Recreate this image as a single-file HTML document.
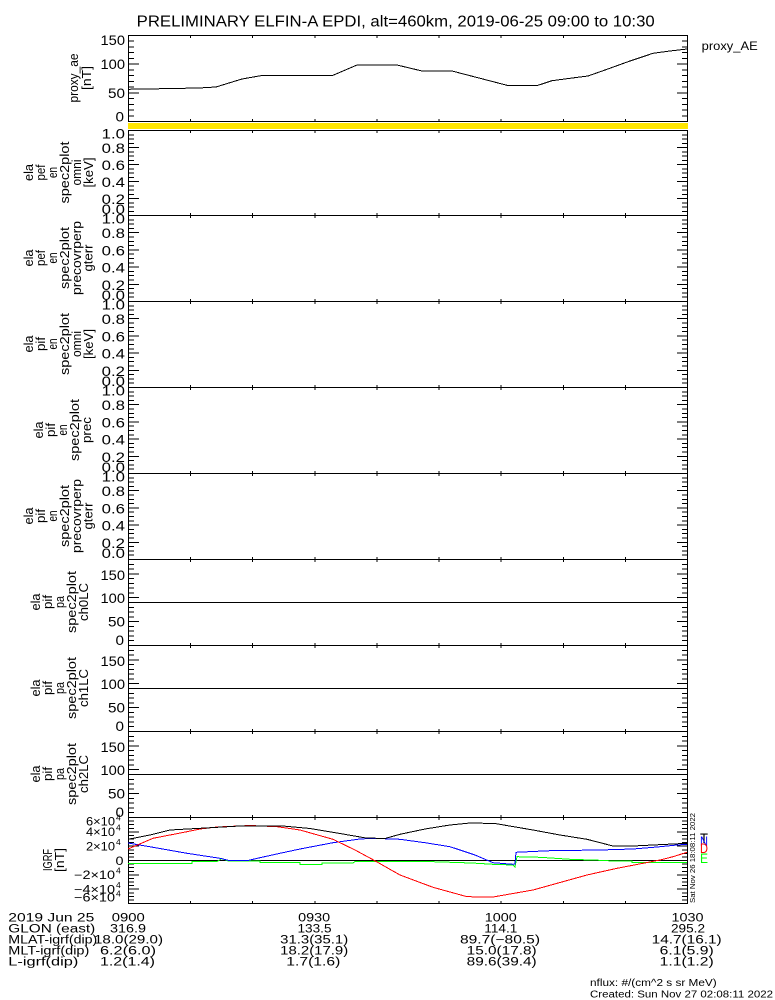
<!DOCTYPE html>
<html><head><meta charset="utf-8"><style>
html,body{margin:0;padding:0;background:#fff;}
svg{display:block;}
text{font-family:"Liberation Sans",sans-serif;fill:#000;}
</style></head><body>
<svg width="775" height="1000" viewBox="0 0 775 1000" xmlns="http://www.w3.org/2000/svg">
<rect width="775" height="1000" fill="#fff"/>

<!-- Title -->
<text x="136.7" y="26.5" font-size="16" textLength="518" lengthAdjust="spacingAndGlyphs">PRELIMINARY ELFIN-A EPDI, alt=460km, 2019-06-25 09:00 to 10:30</text>
<text x="701.7" y="50" font-size="11.5" textLength="56" lengthAdjust="spacingAndGlyphs">proxy_AE</text>

<!-- yellow bar -->
<rect x="128" y="123" width="560" height="6" fill="#FFE600"/>

<g fill="none" stroke="#000" stroke-width="1" shape-rendering="crispEdges">
<!-- frames -->
<rect x="128.5" y="35.5" width="559" height="86"/>
<rect x="128.5" y="130.5" width="559" height="85"/>
<rect x="128.5" y="215.5" width="559" height="86"/>
<rect x="128.5" y="301.5" width="559" height="86"/>
<rect x="128.5" y="387.5" width="559" height="86"/>
<rect x="128.5" y="473.5" width="559" height="86"/>
<rect x="128.5" y="559.5" width="559" height="86"/>
<rect x="128.5" y="645.5" width="559" height="86"/>
<rect x="128.5" y="731.5" width="559" height="86"/>
<rect x="128.5" y="817.5" width="559" height="86"/>
<!-- 90 deg lines & zero line -->
<line x1="128" y1="602.5" x2="688" y2="602.5"/>
<line x1="128" y1="688.5" x2="688" y2="688.5"/>
<line x1="128" y1="774.5" x2="688" y2="774.5"/>
<line x1="128" y1="860.5" x2="688" y2="860.5"/>

<!-- x ticks (top and bottom of each panel) -->
<g stroke-width="2" stroke-dasharray="1 61.1111">
<line x1="128" y1="37" x2="688" y2="37"/><line x1="128" y1="120" x2="688" y2="120"/>
<line x1="128" y1="132" x2="688" y2="132"/><line x1="128" y1="214" x2="688" y2="214"/>
<line x1="128" y1="217" x2="688" y2="217"/><line x1="128" y1="300" x2="688" y2="300"/>
<line x1="128" y1="303" x2="688" y2="303"/><line x1="128" y1="386" x2="688" y2="386"/>
<line x1="128" y1="389" x2="688" y2="389"/><line x1="128" y1="472" x2="688" y2="472"/>
<line x1="128" y1="475" x2="688" y2="475"/><line x1="128" y1="558" x2="688" y2="558"/>
<line x1="128" y1="561" x2="688" y2="561"/><line x1="128" y1="644" x2="688" y2="644"/>
<line x1="128" y1="647" x2="688" y2="647"/><line x1="128" y1="730" x2="688" y2="730"/>
<line x1="128" y1="733" x2="688" y2="733"/><line x1="128" y1="816" x2="688" y2="816"/>
<line x1="128" y1="819" x2="688" y2="819"/><line x1="128" y1="902" x2="688" y2="902"/>
</g>

<!-- y ticks: proxy 0-150 -->
<line x1="131" y1="122" x2="131" y2="35" stroke-width="6" stroke-dasharray="1 4.7333"/>
<line x1="133.5" y1="122" x2="133.5" y2="35" stroke-width="11" stroke-dasharray="1 27.6667"/>
<line x1="685" y1="122" x2="685" y2="35" stroke-width="6" stroke-dasharray="1 4.7333"/>
<line x1="682.5" y1="122" x2="682.5" y2="35" stroke-width="11" stroke-dasharray="1 27.6667"/>

<!-- P1 130-215 -->
<line x1="131" y1="216" x2="131" y2="130" stroke-width="6" stroke-dasharray="1 3.25"/>
<line x1="133.5" y1="216" x2="133.5" y2="130" stroke-width="11" stroke-dasharray="1 16"/>
<line x1="685" y1="216" x2="685" y2="130" stroke-width="6" stroke-dasharray="1 3.25"/>
<line x1="682.5" y1="216" x2="682.5" y2="130" stroke-width="11" stroke-dasharray="1 16"/>
<!-- P2 215-301 -->
<line x1="131" y1="302" x2="131" y2="215" stroke-width="6" stroke-dasharray="1 3.3"/>
<line x1="133.5" y1="302" x2="133.5" y2="215" stroke-width="11" stroke-dasharray="1 16.2"/>
<line x1="685" y1="302" x2="685" y2="215" stroke-width="6" stroke-dasharray="1 3.3"/>
<line x1="682.5" y1="302" x2="682.5" y2="215" stroke-width="11" stroke-dasharray="1 16.2"/>
<!-- P3 301-387 -->
<line x1="131" y1="388" x2="131" y2="301" stroke-width="6" stroke-dasharray="1 3.3"/>
<line x1="133.5" y1="388" x2="133.5" y2="301" stroke-width="11" stroke-dasharray="1 16.2"/>
<line x1="685" y1="388" x2="685" y2="301" stroke-width="6" stroke-dasharray="1 3.3"/>
<line x1="682.5" y1="388" x2="682.5" y2="301" stroke-width="11" stroke-dasharray="1 16.2"/>
<!-- P4 387-473 -->
<line x1="131" y1="474" x2="131" y2="387" stroke-width="6" stroke-dasharray="1 3.3"/>
<line x1="133.5" y1="474" x2="133.5" y2="387" stroke-width="11" stroke-dasharray="1 16.2"/>
<line x1="685" y1="474" x2="685" y2="387" stroke-width="6" stroke-dasharray="1 3.3"/>
<line x1="682.5" y1="474" x2="682.5" y2="387" stroke-width="11" stroke-dasharray="1 16.2"/>
<!-- P5 473-559 -->
<line x1="131" y1="560" x2="131" y2="473" stroke-width="6" stroke-dasharray="1 3.3"/>
<line x1="133.5" y1="560" x2="133.5" y2="473" stroke-width="11" stroke-dasharray="1 16.2"/>
<line x1="685" y1="560" x2="685" y2="473" stroke-width="6" stroke-dasharray="1 3.3"/>
<line x1="682.5" y1="560" x2="682.5" y2="473" stroke-width="11" stroke-dasharray="1 16.2"/>
<!-- P6 559-645 (0-180) -->
<line x1="131" y1="646" x2="131" y2="559" stroke-width="6" stroke-dasharray="1 3.7778"/>
<line x1="133.5" y1="646" x2="133.5" y2="559" stroke-width="11" stroke-dasharray="1 22.8889"/>
<line x1="685" y1="646" x2="685" y2="559" stroke-width="6" stroke-dasharray="1 3.7778"/>
<line x1="682.5" y1="646" x2="682.5" y2="559" stroke-width="11" stroke-dasharray="1 22.8889"/>
<!-- P7 645-731 -->
<line x1="131" y1="732" x2="131" y2="645" stroke-width="6" stroke-dasharray="1 3.7778"/>
<line x1="133.5" y1="732" x2="133.5" y2="645" stroke-width="11" stroke-dasharray="1 22.8889"/>
<line x1="685" y1="732" x2="685" y2="645" stroke-width="6" stroke-dasharray="1 3.7778"/>
<line x1="682.5" y1="732" x2="682.5" y2="645" stroke-width="11" stroke-dasharray="1 22.8889"/>
<!-- P8 731-817 -->
<line x1="131" y1="818" x2="131" y2="731" stroke-width="6" stroke-dasharray="1 3.7778"/>
<line x1="133.5" y1="818" x2="133.5" y2="731" stroke-width="11" stroke-dasharray="1 22.8889"/>
<line x1="685" y1="818" x2="685" y2="731" stroke-width="6" stroke-dasharray="1 3.7778"/>
<line x1="682.5" y1="818" x2="682.5" y2="731" stroke-width="11" stroke-dasharray="1 22.8889"/>
<!-- IGRF 817-903 -->
<line x1="131" y1="904" x2="131" y2="817" stroke-width="6" stroke-dasharray="1 2.5833"/>
<line x1="133.5" y1="904" x2="133.5" y2="817" stroke-width="11" stroke-dasharray="1 13.3333"/>
<line x1="685" y1="904" x2="685" y2="817" stroke-width="6" stroke-dasharray="1 2.5833"/>
<line x1="682.5" y1="904" x2="682.5" y2="817" stroke-width="11" stroke-dasharray="1 13.3333"/>
</g>

<!-- data curves -->
<g fill="none" stroke-width="1" shape-rendering="crispEdges">
<polyline stroke="#000" points="128,89.3 162,88.7 199,88 216,87 242,79 263,75.3 333,75.3 357,65 397,65 422,71 452,71 507,85.3 538,85.3 552,80.7 570,78.3 588,76 607,69.3 628,61.7 653,53.3 670,51 687,49"/>
<polyline stroke="#00FF00" points="128,863.5 192,863.5 192,861.5 217,861.5 222,858.5 228,861 260,861 260,862.7 300,862.7 300,864.3 322,864.3 322,863 353,863 355,861.5 400,861.7 433,861.7 463,862.7 477,863.3 493,864.3 513,865 515,867 517,856.7 540,857.3 570,859.3 600,860.3 613,861 632,861 632,862.7 687,862.7"/>
<polyline stroke="#0000FF" points="128,843 153,847.3 187,853.3 220,858.3 230,860.7 247,860.7 260,857.7 280,853.3 300,849 333,842.7 360,839 373,838.3 400,839.3 425,842.7 450,846.7 475,855 493,862.7 513,864.3 515,864 516,852.3 550,850.7 600,850 633,849 657,847 677,845 687,844.3"/>
<polyline stroke="#FF0000" points="128,849 153,838.3 187,831.7 200,829 217,827 250,825.5 277,826.7 300,830 333,839.3 355,850 373,859.7 400,875 433,887.3 467,896.7 493,897 533,890 587,875 617,868.3 643,863.3 660,860 673,856.7 687,852.3"/>
<polyline stroke="#000" points="128,839.3 150,835 170,830 200,828.3 240,826 283,826 310,828.5 333,832.3 366,838 385,838.5 400,834.3 425,829 450,825 470,823 495,823.5 533,830 560,835 587,839.3 613,846 633,846 667,844.3 687,843.3"/>
</g>

<!-- y tick labels -->
<g font-size="14" text-anchor="end">
<text x="125" y="45" textLength="24.5" lengthAdjust="spacingAndGlyphs">150</text>
<text x="125" y="69" textLength="24.5" lengthAdjust="spacingAndGlyphs">100</text>
<text x="125" y="98" textLength="17" lengthAdjust="spacingAndGlyphs">50</text>
<text x="124" y="121.5" textLength="8.5" lengthAdjust="spacingAndGlyphs">0</text>

<text x="125" y="138.5" textLength="23.3" lengthAdjust="spacingAndGlyphs">1.0</text>
<text x="125" y="153" textLength="23.3" lengthAdjust="spacingAndGlyphs">0.8</text>
<text x="125" y="170" textLength="23.3" lengthAdjust="spacingAndGlyphs">0.6</text>
<text x="125" y="187" textLength="23.3" lengthAdjust="spacingAndGlyphs">0.4</text>
<text x="125" y="204" textLength="23.3" lengthAdjust="spacingAndGlyphs">0.2</text>
<text x="125" y="214" textLength="23.3" lengthAdjust="spacingAndGlyphs">0.0</text>

<text x="125" y="223.5" textLength="23.3" lengthAdjust="spacingAndGlyphs">1.0</text>
<text x="125" y="238.2" textLength="23.3" lengthAdjust="spacingAndGlyphs">0.8</text>
<text x="125" y="255.4" textLength="23.3" lengthAdjust="spacingAndGlyphs">0.6</text>
<text x="125" y="272.6" textLength="23.3" lengthAdjust="spacingAndGlyphs">0.4</text>
<text x="125" y="289.8" textLength="23.3" lengthAdjust="spacingAndGlyphs">0.2</text>
<text x="125" y="300" textLength="23.3" lengthAdjust="spacingAndGlyphs">0.0</text>

<text x="125" y="309.5" textLength="23.3" lengthAdjust="spacingAndGlyphs">1.0</text>
<text x="125" y="324.2" textLength="23.3" lengthAdjust="spacingAndGlyphs">0.8</text>
<text x="125" y="341.4" textLength="23.3" lengthAdjust="spacingAndGlyphs">0.6</text>
<text x="125" y="358.6" textLength="23.3" lengthAdjust="spacingAndGlyphs">0.4</text>
<text x="125" y="375.8" textLength="23.3" lengthAdjust="spacingAndGlyphs">0.2</text>
<text x="125" y="386" textLength="23.3" lengthAdjust="spacingAndGlyphs">0.0</text>

<text x="125" y="395.5" textLength="23.3" lengthAdjust="spacingAndGlyphs">1.0</text>
<text x="125" y="410.2" textLength="23.3" lengthAdjust="spacingAndGlyphs">0.8</text>
<text x="125" y="427.4" textLength="23.3" lengthAdjust="spacingAndGlyphs">0.6</text>
<text x="125" y="444.6" textLength="23.3" lengthAdjust="spacingAndGlyphs">0.4</text>
<text x="125" y="461.8" textLength="23.3" lengthAdjust="spacingAndGlyphs">0.2</text>
<text x="125" y="472" textLength="23.3" lengthAdjust="spacingAndGlyphs">0.0</text>

<text x="125" y="481.5" textLength="23.3" lengthAdjust="spacingAndGlyphs">1.0</text>
<text x="125" y="496.2" textLength="23.3" lengthAdjust="spacingAndGlyphs">0.8</text>
<text x="125" y="513.4" textLength="23.3" lengthAdjust="spacingAndGlyphs">0.6</text>
<text x="125" y="530.6" textLength="23.3" lengthAdjust="spacingAndGlyphs">0.4</text>
<text x="125" y="547.8" textLength="23.3" lengthAdjust="spacingAndGlyphs">0.2</text>
<text x="125" y="558" textLength="23.3" lengthAdjust="spacingAndGlyphs">0.0</text>

<text x="125" y="580" textLength="24.5" lengthAdjust="spacingAndGlyphs">150</text>
<text x="125" y="603" textLength="24.5" lengthAdjust="spacingAndGlyphs">100</text>
<text x="125" y="626.5" textLength="17" lengthAdjust="spacingAndGlyphs">50</text>
<text x="124" y="645" textLength="8.5" lengthAdjust="spacingAndGlyphs">0</text>

<text x="125" y="666" textLength="24.5" lengthAdjust="spacingAndGlyphs">150</text>
<text x="125" y="689" textLength="24.5" lengthAdjust="spacingAndGlyphs">100</text>
<text x="125" y="712.5" textLength="17" lengthAdjust="spacingAndGlyphs">50</text>
<text x="124" y="731" textLength="8.5" lengthAdjust="spacingAndGlyphs">0</text>

<text x="125" y="752" textLength="24.5" lengthAdjust="spacingAndGlyphs">150</text>
<text x="125" y="775" textLength="24.5" lengthAdjust="spacingAndGlyphs">100</text>
<text x="125" y="798.5" textLength="17" lengthAdjust="spacingAndGlyphs">50</text>
<text x="124" y="817" textLength="8.5" lengthAdjust="spacingAndGlyphs">0</text>
</g>

<!-- IGRF tick labels -->
<g font-size="11.5" text-anchor="end">
<text x="115" y="825.7" textLength="29" lengthAdjust="spacingAndGlyphs">6×10</text>
<text x="115" y="836" textLength="29" lengthAdjust="spacingAndGlyphs">4×10</text>
<text x="115" y="850.7" textLength="29" lengthAdjust="spacingAndGlyphs">2×10</text>
<text x="123.5" y="865" textLength="8" lengthAdjust="spacingAndGlyphs">0</text>
<text x="115" y="879" textLength="41" lengthAdjust="spacingAndGlyphs">−2×10</text>
<text x="115" y="893.3" textLength="41" lengthAdjust="spacingAndGlyphs">−4×10</text>
<text x="115" y="901.7" textLength="41" lengthAdjust="spacingAndGlyphs">−6×10</text>
</g>
<g font-size="8.5">
<text x="116" y="820.5">4</text>
<text x="116" y="830.7">4</text>
<text x="116" y="845.2">4</text>
<text x="116" y="873.5">4</text>
<text x="116" y="888">4</text>
<text x="116" y="896.3">4</text>
</g>

<!-- rotated y-axis titles -->
<g font-size="13" text-anchor="middle">
<text transform="translate(78,78) rotate(-90)" textLength="49" lengthAdjust="spacingAndGlyphs">proxy_ae</text>
<text transform="translate(91,78) rotate(-90)" textLength="24" lengthAdjust="spacingAndGlyphs">[nT]</text>

<text transform="translate(33,172.5) rotate(-90)" textLength="17" lengthAdjust="spacingAndGlyphs">ela</text>
<text transform="translate(45,172.5) rotate(-90)" textLength="16" lengthAdjust="spacingAndGlyphs">pef</text>
<text transform="translate(57,172.5) rotate(-90)" textLength="11" lengthAdjust="spacingAndGlyphs">en</text>
<text transform="translate(69,172.5) rotate(-90)" textLength="62" lengthAdjust="spacingAndGlyphs">spec2plot</text>
<text transform="translate(81,172.5) rotate(-90)" textLength="26" lengthAdjust="spacingAndGlyphs">omni</text>
<text transform="translate(93,172.5) rotate(-90)" textLength="30" lengthAdjust="spacingAndGlyphs">[keV]</text>

<text transform="translate(33,258) rotate(-90)" textLength="17" lengthAdjust="spacingAndGlyphs">ela</text>
<text transform="translate(45,258) rotate(-90)" textLength="16" lengthAdjust="spacingAndGlyphs">pef</text>
<text transform="translate(57,258) rotate(-90)" textLength="11" lengthAdjust="spacingAndGlyphs">en</text>
<text transform="translate(69,258) rotate(-90)" textLength="62" lengthAdjust="spacingAndGlyphs">spec2plot</text>
<text transform="translate(81,258) rotate(-90)" textLength="74" lengthAdjust="spacingAndGlyphs">precovrperp</text>
<text transform="translate(92.5,258) rotate(-90)" textLength="27" lengthAdjust="spacingAndGlyphs">gterr</text>

<text transform="translate(33,344) rotate(-90)" textLength="17" lengthAdjust="spacingAndGlyphs">ela</text>
<text transform="translate(45,344) rotate(-90)" textLength="14" lengthAdjust="spacingAndGlyphs">pif</text>
<text transform="translate(57,344) rotate(-90)" textLength="11" lengthAdjust="spacingAndGlyphs">en</text>
<text transform="translate(69,344) rotate(-90)" textLength="62" lengthAdjust="spacingAndGlyphs">spec2plot</text>
<text transform="translate(81,344) rotate(-90)" textLength="26" lengthAdjust="spacingAndGlyphs">omni</text>
<text transform="translate(93,344) rotate(-90)" textLength="30" lengthAdjust="spacingAndGlyphs">[keV]</text>

<text transform="translate(43,430) rotate(-90)" textLength="17" lengthAdjust="spacingAndGlyphs">ela</text>
<text transform="translate(55,430) rotate(-90)" textLength="14" lengthAdjust="spacingAndGlyphs">pif</text>
<text transform="translate(67,430) rotate(-90)" textLength="11" lengthAdjust="spacingAndGlyphs">en</text>
<text transform="translate(79,430) rotate(-90)" textLength="62" lengthAdjust="spacingAndGlyphs">spec2plot</text>
<text transform="translate(91,430) rotate(-90)" textLength="26" lengthAdjust="spacingAndGlyphs">prec</text>

<text transform="translate(33,516) rotate(-90)" textLength="17" lengthAdjust="spacingAndGlyphs">ela</text>
<text transform="translate(45,516) rotate(-90)" textLength="14" lengthAdjust="spacingAndGlyphs">pif</text>
<text transform="translate(57,516) rotate(-90)" textLength="11" lengthAdjust="spacingAndGlyphs">en</text>
<text transform="translate(69,516) rotate(-90)" textLength="62" lengthAdjust="spacingAndGlyphs">spec2plot</text>
<text transform="translate(81,516) rotate(-90)" textLength="74" lengthAdjust="spacingAndGlyphs">precovrperp</text>
<text transform="translate(92.5,516) rotate(-90)" textLength="27" lengthAdjust="spacingAndGlyphs">gterr</text>

<text transform="translate(40,602) rotate(-90)" textLength="17" lengthAdjust="spacingAndGlyphs">ela</text>
<text transform="translate(52,602) rotate(-90)" textLength="14" lengthAdjust="spacingAndGlyphs">pif</text>
<text transform="translate(64,602) rotate(-90)" textLength="12" lengthAdjust="spacingAndGlyphs">pa</text>
<text transform="translate(76,602) rotate(-90)" textLength="62" lengthAdjust="spacingAndGlyphs">spec2plot</text>
<text transform="translate(88,602) rotate(-90)" textLength="38" lengthAdjust="spacingAndGlyphs">ch0LC</text>

<text transform="translate(40,688) rotate(-90)" textLength="17" lengthAdjust="spacingAndGlyphs">ela</text>
<text transform="translate(52,688) rotate(-90)" textLength="14" lengthAdjust="spacingAndGlyphs">pif</text>
<text transform="translate(64,688) rotate(-90)" textLength="12" lengthAdjust="spacingAndGlyphs">pa</text>
<text transform="translate(76,688) rotate(-90)" textLength="62" lengthAdjust="spacingAndGlyphs">spec2plot</text>
<text transform="translate(88,688) rotate(-90)" textLength="38" lengthAdjust="spacingAndGlyphs">ch1LC</text>

<text transform="translate(40,774) rotate(-90)" textLength="17" lengthAdjust="spacingAndGlyphs">ela</text>
<text transform="translate(52,774) rotate(-90)" textLength="14" lengthAdjust="spacingAndGlyphs">pif</text>
<text transform="translate(64,774) rotate(-90)" textLength="12" lengthAdjust="spacingAndGlyphs">pa</text>
<text transform="translate(76,774) rotate(-90)" textLength="62" lengthAdjust="spacingAndGlyphs">spec2plot</text>
<text transform="translate(88,774) rotate(-90)" textLength="38" lengthAdjust="spacingAndGlyphs">ch2LC</text>

<text transform="translate(52,860) rotate(-90)" textLength="22" lengthAdjust="spacingAndGlyphs">IGRF</text>
<text transform="translate(64,860) rotate(-90)" textLength="24" lengthAdjust="spacingAndGlyphs">[nT]</text>
</g>

<!-- right-side date and legend -->
<text transform="translate(695,858) rotate(-90)" font-size="7.5" text-anchor="middle" textLength="90" lengthAdjust="spacingAndGlyphs">Sat Nov 26 18:08:11 2022</text>
<g font-size="13.5">
<text x="700" y="843" textLength="8" lengthAdjust="spacingAndGlyphs">T</text>
<text x="700" y="846" style="fill:#0000FF" textLength="8" lengthAdjust="spacingAndGlyphs">N</text>
<text x="700" y="853" style="fill:#FF0000" textLength="8" lengthAdjust="spacingAndGlyphs">D</text>
<text x="700" y="863" style="fill:#00FF00" textLength="8" lengthAdjust="spacingAndGlyphs">E</text>
</g>

<!-- bottom table -->
<g font-size="11.5">
<text x="8.3" y="921.5" textLength="86" lengthAdjust="spacingAndGlyphs">2019 Jun 25</text>
<text x="8.3" y="932.5" textLength="87" lengthAdjust="spacingAndGlyphs">GLON (east)</text>
<text x="8.3" y="943.5" textLength="89" lengthAdjust="spacingAndGlyphs">MLAT-igrf(dip)</text>
<text x="8.3" y="954.5" textLength="81" lengthAdjust="spacingAndGlyphs">MLT-igrf(dip)</text>
<text x="8.3" y="965.5" textLength="70" lengthAdjust="spacingAndGlyphs">L-igrf(dip)</text>
</g>
<g font-size="11.5" text-anchor="middle">
<text x="128.3" y="921.5" textLength="33" lengthAdjust="spacingAndGlyphs">0900</text>
<text x="314.2" y="921.5" textLength="32" lengthAdjust="spacingAndGlyphs">0930</text>
<text x="500.8" y="921.5" textLength="32" lengthAdjust="spacingAndGlyphs">1000</text>
<text x="687.5" y="921.5" textLength="32" lengthAdjust="spacingAndGlyphs">1030</text>

<text x="128" y="932.5" textLength="36" lengthAdjust="spacingAndGlyphs">316.9</text>
<text x="314.5" y="932.5" textLength="34" lengthAdjust="spacingAndGlyphs">133.5</text>
<text x="500.8" y="932.5" textLength="33" lengthAdjust="spacingAndGlyphs">114.1</text>
<text x="688" y="932.5" textLength="34" lengthAdjust="spacingAndGlyphs">295.2</text>

<text x="128.5" y="943.5" textLength="69" lengthAdjust="spacingAndGlyphs">18.0(29.0)</text>
<text x="314.2" y="943.5" textLength="68" lengthAdjust="spacingAndGlyphs">31.3(35.1)</text>
<text x="500" y="943.5" textLength="80" lengthAdjust="spacingAndGlyphs">89.7(−80.5)</text>
<text x="686.7" y="943.5" textLength="70" lengthAdjust="spacingAndGlyphs">14.7(16.1)</text>

<text x="128" y="954.5" textLength="56" lengthAdjust="spacingAndGlyphs">6.2(6.0)</text>
<text x="314.2" y="954.5" textLength="68" lengthAdjust="spacingAndGlyphs">18.2(17.9)</text>
<text x="501.7" y="954.5" textLength="70" lengthAdjust="spacingAndGlyphs">15.0(17.8)</text>
<text x="686.7" y="954.5" textLength="54" lengthAdjust="spacingAndGlyphs">6.1(5.9)</text>

<text x="127.5" y="965.5" textLength="55" lengthAdjust="spacingAndGlyphs">1.2(1.4)</text>
<text x="313.3" y="965.5" textLength="54" lengthAdjust="spacingAndGlyphs">1.7(1.6)</text>
<text x="501.7" y="965.5" textLength="70" lengthAdjust="spacingAndGlyphs">89.6(39.4)</text>
<text x="686.7" y="965.5" textLength="54" lengthAdjust="spacingAndGlyphs">1.1(1.2)</text>
</g>

<!-- footer -->
<g font-size="9.8">
<text x="590" y="986" textLength="126.7" lengthAdjust="spacingAndGlyphs">nflux: #/(cm^2 s sr MeV)</text>
<text x="590" y="997.5" textLength="183" lengthAdjust="spacingAndGlyphs">Created: Sun Nov 27 02:08:11 2022</text>
</g>
</svg>
</body></html>
